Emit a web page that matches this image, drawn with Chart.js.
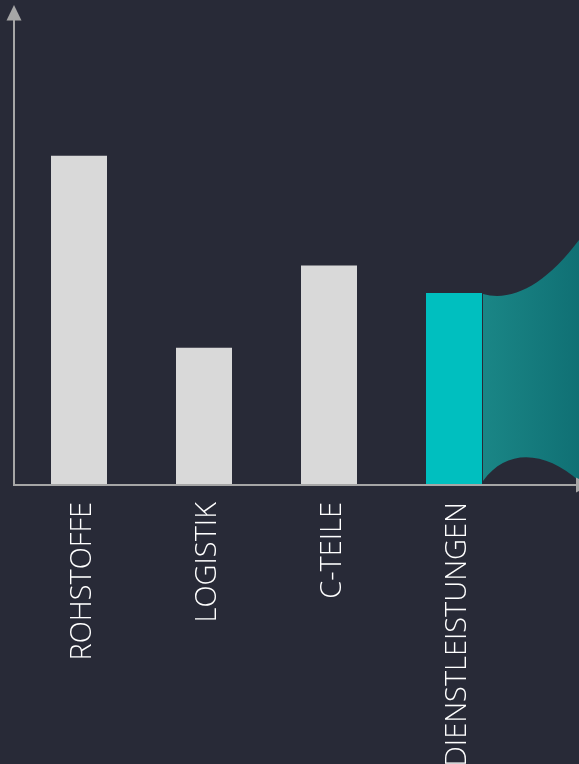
<!DOCTYPE html>
<html>
<head>
<meta charset="utf-8">
<script src="https://cdn.jsdelivr.net/npm/chart.js@4.4.1/dist/chart.umd.min.js"></script>
<style>
  html, body { margin: 0; padding: 0; background: #282a37; }
  #wrap { width: 579px; height: 764px; position: relative; }
</style>
</head>
<body>
<div id="wrap"><canvas id="chart"></canvas></div>
<script>
const categories = ["ROHSTOFFE", "LOGISTIK", "C-TEILE", "DIENSTLEISTUNGEN"];
const values = [60, 25, 40, 35];
const barColors = ["#d9d9d9", "#d9d9d9", "#d9d9d9", "#00bfbf"];

const axisColor = "#a6a6a6";

// axes with arrows + the teal "funnel" coming out of the last bar
const decoPlugin = {
  id: "deco",
  beforeDatasetsDraw(chart) {
    const ctx = chart.ctx;
    const bar = chart.getDatasetMeta(0).data[3];
    const x0 = bar.x + bar.width / 2 + 1;
    const x1 = chart.width;
    const w = x1 - x0;
    const yTop = bar.y + 1;
    const yBot = bar.base - 4;

    ctx.save();
    const grad = ctx.createLinearGradient(x0, 0, x1, 0);
    grad.addColorStop(0, "#1a8686");
    grad.addColorStop(1, "#107074");
    ctx.fillStyle = grad;
    ctx.beginPath();
    ctx.moveTo(x0, yTop);
    ctx.bezierCurveTo(x0 + w * 0.3, yTop + 8, x0 + w * 0.65, yTop - 9, x1, yTop - 54);
    ctx.lineTo(x1, yBot);
    ctx.bezierCurveTo(x0 + w * 0.65, yBot - 30, x0 + w * 0.25, yBot - 33, x0, yBot);
    ctx.closePath();
    ctx.fill();
    ctx.restore();
  },
  afterDatasetsDraw(chart) {
    const ctx = chart.ctx;
    const area = chart.chartArea;
    const left = area.left;
    const bottom = area.bottom;
    ctx.save();
    ctx.strokeStyle = axisColor;
    ctx.fillStyle = axisColor;
    ctx.lineWidth = 2;
    ctx.beginPath();
    ctx.moveTo(left, 18);
    ctx.lineTo(left, bottom);
    ctx.lineTo(chart.width, bottom);
    ctx.stroke();
    // up arrow
    ctx.beginPath();
    ctx.moveTo(left, 5);
    ctx.lineTo(left - 7.5, 20.5);
    ctx.lineTo(left + 7.5, 20.5);
    ctx.closePath();
    ctx.fill();
    // right arrow (tip runs off the canvas)
    ctx.beginPath();
    ctx.moveTo(576, bottom - 7.5);
    ctx.lineTo(591, bottom);
    ctx.lineTo(576, bottom + 7.5);
    ctx.closePath();
    ctx.fill();
    ctx.restore();
  }
};

const ctx = document.getElementById("chart").getContext("2d");

new Chart(ctx, {
  type: "bar",
  data: {
    datasets: [
      {
        data: values.map((v, i) => ({ x: i, y: v })),
        backgroundColor: barColors,
        borderWidth: 0,
        barPercentage: 0.448,
        categoryPercentage: 1
      }
    ]
  },
  options: {
    responsive: true,
    maintainAspectRatio: false,
    animation: false,
    layout: { padding: { left: 14, top: 5, right: 0, bottom: 0 } },
    plugins: {
      legend: { display: false },
      tooltip: { enabled: false }
    },
    scales: {
      x: {
        type: "linear",
        offset: false,
        min: -0.52,
        max: 4,
        grid: { display: false, drawTicks: false, offset: false },
        border: { display: false },
        afterBuildTicks(scale) {
          scale.ticks = categories.map((c, i) => ({ value: i }));
        },
        afterFit(scale) {
          scale.height = 279;
        },
        ticks: {
          autoSkip: false,
          minRotation: 90,
          maxRotation: 90,
          padding: 17,
          labelOffset: 4,
          color: "#ffffff",
          font: { family: "Open Sans", size: 29, weight: 300 },
          callback: (v) => categories[v]
        }
      },
      y: {
        display: false,
        min: 0,
        max: 87.5
      }
    }
  },
  plugins: [decoPlugin]
});
</script>
</body>
</html>
